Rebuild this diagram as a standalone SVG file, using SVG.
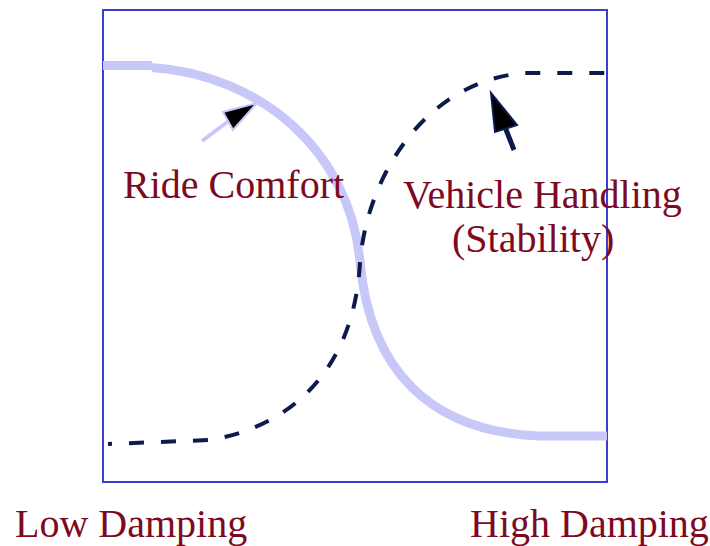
<svg xmlns="http://www.w3.org/2000/svg" width="710" height="546" viewBox="0 0 710 546">
<style>
.lbl{font-family:"Liberation Serif","Times New Roman",serif;font-size:40px;fill:#7d0a22}
.comfort{fill:none;stroke:#c8c8f8;stroke-width:9}
.handling{fill:none;stroke:#0c1a4c;stroke-width:4;stroke-dasharray:15 17}
</style>
<rect x="0" y="0" width="710" height="546" fill="#ffffff"/>
<g id="frame"><rect x="103" y="10" width="504" height="472" fill="none" stroke="#3c3cd0" stroke-width="2"/></g>
<g id="connectors">
<path class="comfort" d="M103,65.5 L152,65.5 M152,67.5 C260,75 350,150 360,262 C370,370 430,432 540,436 L607,436"/>
<path class="handling" d="M108,444 L210,440 C300,425 355,360 360,262 C368,170 430,80 525,73 L614,73" stroke-dashoffset="11"/>
<line x1="202" y1="141" x2="230" y2="120" stroke="#c8c8f8" stroke-width="4"/>
<polygon points="257,103 223,112 233,130" fill="#000" stroke="#c8c8f8" stroke-width="2"/>
<line x1="514" y1="150" x2="505" y2="127" stroke="#0c1a4c" stroke-width="5"/>
<polygon points="491,93 495,132 517,125" fill="#000" stroke="#0c1a4c" stroke-width="2"/>
</g>
<g id="ride-comfort"><text class="lbl" x="123" y="198">Ride Comfort</text></g>
<g id="vehicle-handling"><text class="lbl" x="403" y="208">Vehicle Handling</text><text class="lbl" x="452" y="252">(Stability)</text></g>
<g id="low-damping"><text class="lbl" x="15" y="537">Low Damping</text></g>
<g id="high-damping"><text class="lbl" x="470" y="537">High Damping</text></g>
</svg>
